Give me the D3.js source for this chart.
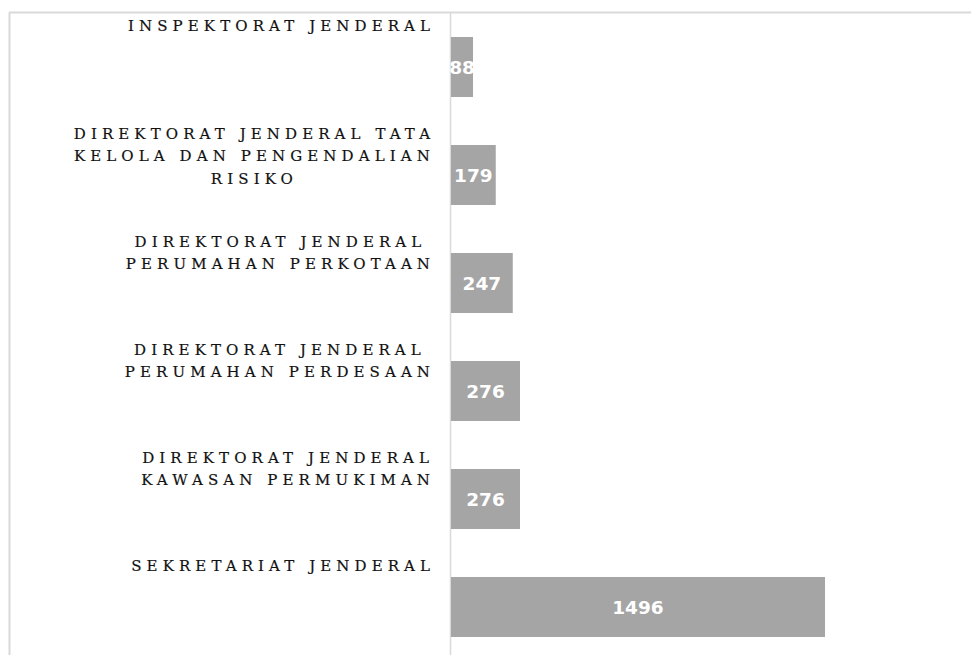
<!DOCTYPE html>
<html><head><meta charset="utf-8">
<script src="https://cdn.jsdelivr.net/npm/d3@7"></script>
<style>
html,body{margin:0;padding:0;background:#fff;}
svg{display:block;}
</style></head>
<body>
<svg id="chart" width="971" height="655"></svg>
<script>
const categories = [
  ["INSPEKTORAT JENDERAL"],
  ["DIREKTORAT JENDERAL TATA", "KELOLA DAN PENGENDALIAN", "RISIKO"],
  ["DIREKTORAT JENDERAL", "PERUMAHAN PERKOTAAN"],
  ["DIREKTORAT JENDERAL", "PERUMAHAN PERDESAAN"],
  ["DIREKTORAT JENDERAL", "KAWASAN PERMUKIMAN"],
  ["SEKRETARIAT JENDERAL"]
];
const values = [88, 179, 247, 276, 276, 1496];

const svg = d3.select("#chart");
const W = 971, H = 655;
const x0 = 450.5;
const x = d3.scaleLinear().domain([0, 1496]).range([x0 + 0.5, 825]);
const idx = d3.range(values.length);
const y = d3.scaleBand().domain(idx).range([37, 637]).paddingInner(48 / 108).paddingOuter(0);

// frame
svg.append("line").attr("x1", 9).attr("x2", W).attr("y1", 12.5).attr("y2", 12.5).attr("stroke", "#d9d9d9").attr("stroke-width", 2);
svg.append("line").attr("x1", 9.5).attr("x2", 9.5).attr("y1", 12).attr("y2", H).attr("stroke", "#d9d9d9").attr("stroke-width", 2);
svg.append("line").attr("x1", x0).attr("x2", x0).attr("y1", 12).attr("y2", H).attr("stroke", "#d9d9d9").attr("stroke-width", 1.5);

// bars
svg.selectAll("rect.bar").data(idx).enter().append("rect")
  .attr("class", "bar")
  .attr("x", x(0))
  .attr("y", i => y(i))
  .attr("width", i => x(values[i]) - x(0))
  .attr("height", y.bandwidth())
  .attr("fill", "#a5a5a5");

// value labels
svg.selectAll("text.val").data(idx).enter().append("text")
  .attr("class", "val")
  .attr("x", i => (x(0) + x(values[i])) / 2)
  .attr("y", i => y(i) + y.bandwidth() / 2)
  .attr("dy", "0.36em")
  .attr("text-anchor", "middle")
  .attr("fill", "#fff")
  .attr("font-family", "DejaVu Sans")
  .attr("font-weight", "bold")
  .attr("font-size", 18.5)
  .text(i => values[i]);

// category labels: lines centred within a block whose right edge sits at labelRight
const labelRight = 430;
const LS = 5.1;
const lab = svg.selectAll("text.cat").data(idx).enter().append("text")
  .attr("class", "cat")
  .attr("text-anchor", "middle")
  .attr("font-family", "DejaVu Serif")
  .attr("font-size", 15)
  .attr("letter-spacing", LS)
  .attr("fill", "#111")
  .attr("stroke", "#111")
  .attr("stroke-width", 0.2);
lab.each(function(i) {
  const t = d3.select(this);
  const spans = categories[i].map((line, k) =>
    t.append("tspan")
      .attr("y", y(i) - 6.5 + k * 22.5)
      .text(line));
  const widths = spans.map(s => s.node().getComputedTextLength() - LS);
  const maxW = d3.max(widths);
  const cx = labelRight - maxW / 2 + LS / 2;
  spans.forEach(s => s.attr("x", cx));
});
</script>
</body></html>
